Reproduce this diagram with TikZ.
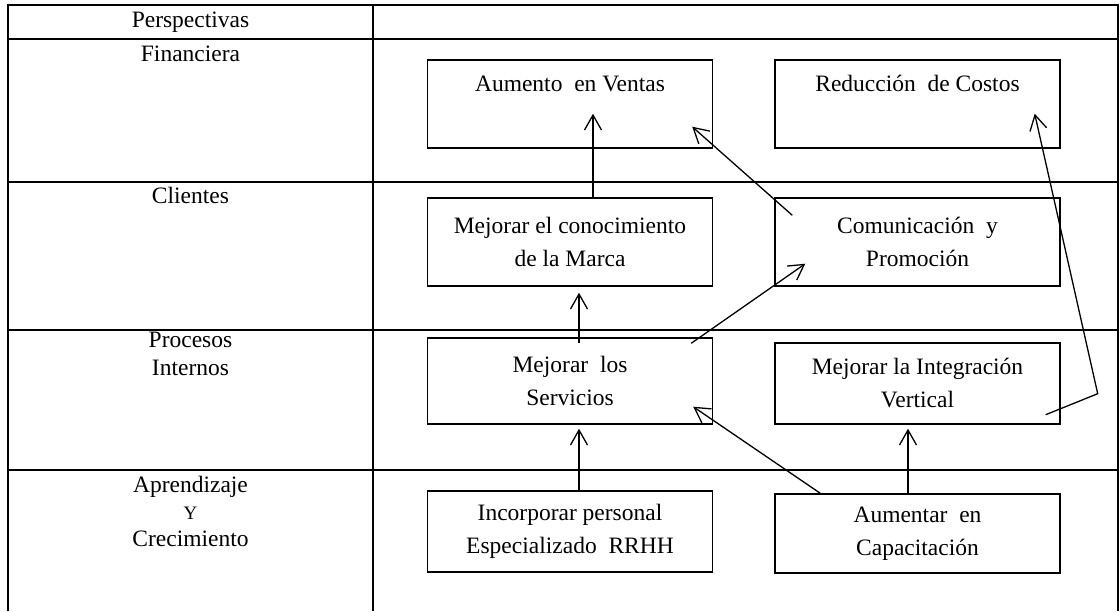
\documentclass[tikz,border=0pt]{standalone}
\usepackage{fontspec}
\setmainfont{Liberation Serif}
\usetikzlibrary{arrows.meta}

\begin{document}
\begin{tikzpicture}[x=1pt, y=-1pt,
    every node/.style={font=\fontsize{23.5}{33}\selectfont},
    grid/.style={line width=1.6pt},
    box/.style={draw, line width=1.4pt, minimum width=285pt, align=center, inner sep=0pt},
    arr/.style={line width=1.3pt, -{Straight Barb[length=15pt,width=17pt]}}]
  \useasboundingbox (0,0) rectangle (1120,611);

  % Table
  \draw[grid] (8,611) -- (8,5) -- (1118,5) -- (1118,611);
  \draw[grid] (373,5) -- (373,611);
  \foreach \y in {39,182,330,470}
    \draw[grid] (8,\y) -- (1118,\y);

  % Perspectives
  \node[anchor=base] (p0) at (190.5,27) {Perspectivas};
  \node[anchor=base] (p1) at (190.5,61) {Financiera};
  \node[anchor=base] (p2) at (190.5,203) {Clientes};
  \node[anchor=base, align=center, font=\fontsize{23.5}{28}\selectfont] (p3) at (190.5,375) {Procesos\\Internos};
  \node[anchor=base, align=center, font=\fontsize{23.5}{27}\selectfont] (p4) at (190.5,546)
    {Aprendizaje\\{\fontsize{19}{25}\selectfont Y}\\Crecimiento};

  % Objectives
  \node[box, anchor=base, text height=31pt, text depth=57pt] (av) at (570,91) {Aumento~~en Ventas};
  \node[box, anchor=base, text height=31pt, text depth=57pt] (rc) at (917.5,91) {Reducción~~de Costos};
  \node[box, minimum height=88pt] (mc) at (570,242) {Mejorar el conocimiento\\de la Marca};
  \node[box, minimum height=88pt] (cp) at (917.5,242) {Comunicación~~y\\Promoción};
  \node[box, minimum height=86pt] (ms) at (570,381) {Mejorar~~los\\Servicios};
  \node[box, minimum height=81pt] (iv) at (917.5,383.5) {Mejorar la Integración\\Vertical};
  \node[box, minimum height=81pt] (ip) at (570,531.5) {Incorporar personal\\Especializado~~RRHH};
  \node[box, minimum height=79pt] (ac) at (917.5,533.5) {Aumentar~~en\\Capacitación};

  % Links
  \draw[arr] ([xshift=23pt]mc.north) -- ([xshift=23pt,yshift=35pt]av.south);
  \draw[arr] ([xshift=18pt,yshift=-18pt]cp.north west) -- ([xshift=-21pt,yshift=22pt]av.south east);
  \draw[arr] ([xshift=-22pt,yshift=-6pt]ms.north east) -- ([xshift=31pt,yshift=23pt]cp.south west);
  \draw[arr] ([xshift=9pt,yshift=-6pt]ms.north) -- ([xshift=9pt,yshift=-6pt]mc.south);
  \draw[arr] ([xshift=9pt]ip.north) -- ([xshift=9pt,yshift=-4pt]ms.south);
  \draw[arr] ([xshift=46pt]ac.north west) -- ([xshift=-20pt,yshift=18pt]ms.south east);
  \draw[arr] ([xshift=-9.5pt]ac.north) -- ([xshift=-9.5pt,yshift=-4pt]iv.south);
  \coordinate (k) at ([xshift=37pt,yshift=31pt]iv.south east);
  \draw[arr] ([xshift=-15pt,yshift=10pt]iv.south east) -- (k) -- ([xshift=-26pt,yshift=35pt]rc.south east);
\end{tikzpicture}
\end{document}
